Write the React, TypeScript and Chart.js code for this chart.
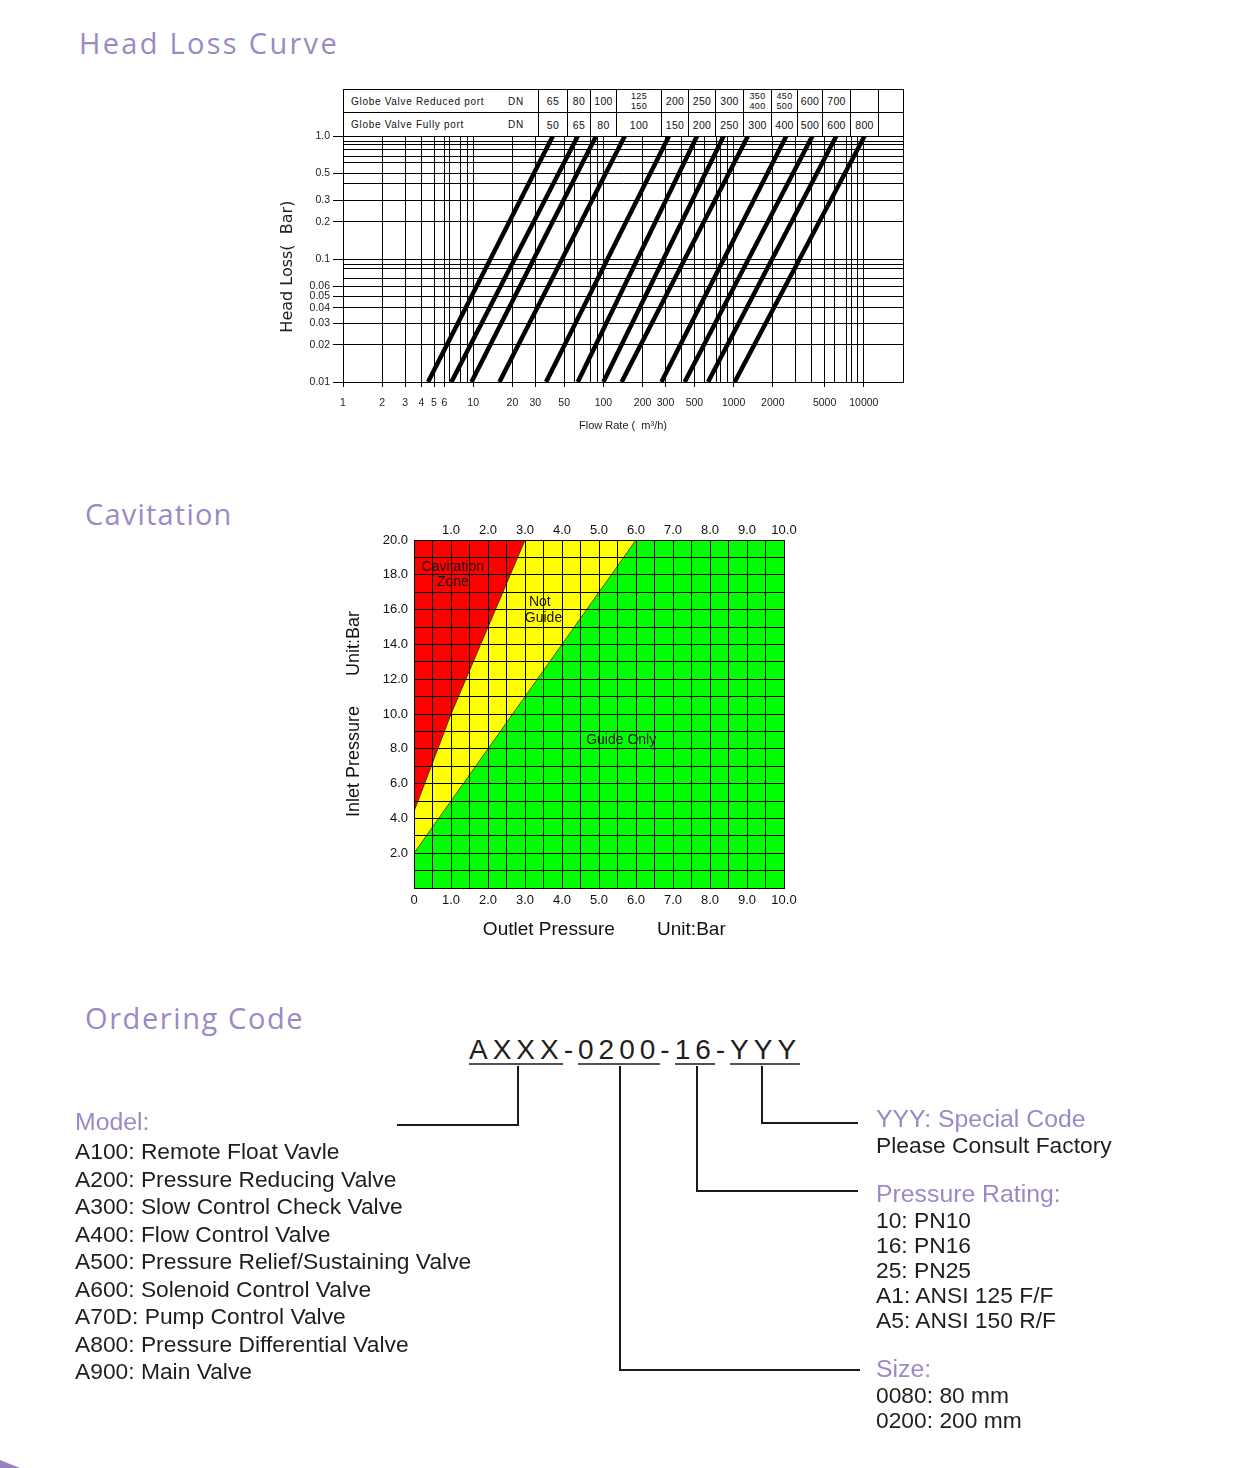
import React, { useEffect, useRef } from 'react';
import { Chart, registerables } from 'chart.js';

Chart.register(...registerables);

/* ---------- Head loss curve ---------- */

// Valve sizes (DN) printed above the curves, one column per curve
const reducedPortDN = ['65', '80', '100', '125\n150', '200', '250', '300', '350\n400', '450\n500', '600', '700', '', ''];
const fullyPortDN = ['50', '65', '80', '100', '150', '200', '250', '300', '400', '500', '600', '800', ''];

// Flow rate (m³/h) of each valve curve at the lowest and at the highest head loss on the chart
const flowAtMinLoss = [4.5, 6.8, 9.7, 15.9, 36.3, 63.6, 100, 138, 279, 421, 636, 1019];
const flowAtMaxLoss = [40.9, 63.6, 87.9, 146, 319, 524, 839, 1289, 2541, 4027, 6150, 10140];
const minLoss = 0.01;
const maxLoss = 1.0;
const minFlow = 1;
const maxFlow = 20000;

const flowLabelTicks = [1, 2, 3, 4, 5, 6, 10, 20, 30, 50, 100, 200, 300, 500, 1000, 2000, 5000, 10000];
const flowGridTicks = [1, 2, 3, 4, 5, 6, 6.6, 8, 9, 10, 20, 30, 50, 60, 80, 90, 100, 200, 300, 400, 500, 600, 740, 800, 900, 1000, 2000, 3000, 4000, 5000, 6000, 7300, 8000, 9000, 10000, 20000];
const lossLabelTicks = [1, 0.5, 0.3, 0.2, 0.1, 0.06, 0.05, 0.04, 0.03, 0.02, 0.01];
const lossGridTicks = [1, 0.9, 0.85, 0.78, 0.68, 0.61, 0.5, 0.41, 0.3, 0.2, 0.1, 0.09, 0.084, 0.069, 0.06, 0.05, 0.04, 0.03, 0.02, 0.01];

/* ---------- Cavitation ---------- */

const outletMax = 10;
const inletMax = 20;
// Edge between the cavitation zone and the "not guide" zone
const cavitationEdgeOutlet = [0, 1.0, 2.0, 3.0];
const cavitationEdgeInlet = [4.4, 10, 15, 20];
// Edge between the "not guide" zone and the "guide only" zone
const guideEdgeOutlet = [0, 6];
const guideEdgeInlet = [2, 20];

const zoneLabels = ['Cavitation', 'Zone', 'Not', 'Guide', 'Guide Only'];
const zoneLabelOutlet = [1.05, 1.05, 3.4, 3.5, 5.6];
const zoneLabelInlet = [18.45, 17.6, 16.4, 15.5, 8.5];

/* ---------- Ordering code ---------- */

const modelList = [
  'A100: Remote Float Vavle',
  'A200: Pressure Reducing Valve',
  'A300: Slow Control Check Valve',
  'A400: Flow Control Valve',
  'A500: Pressure Relief/Sustaining Valve',
  'A600: Solenoid Control Valve',
  'A70D: Pump Control Valve',
  'A800: Pressure Differential Valve',
  'A900: Main Valve',
];
const pressureRatings = ['10: PN10', '16: PN16', '25: PN25', 'A1: ANSI 125 F/F', 'A5: ANSI 150 R/F'];
const sizeCodes = ['0080: 80 mm', '0200: 200 mm'];

const PURPLE = '#9d88c6';
const INK = '#1e1e1e';
const SANS = '"Liberation Sans", Arial, sans-serif';

function HeadLossChart() {
  const ref = useRef<HTMLCanvasElement | null>(null);
  useEffect(() => {
    const canvas = ref.current;
    if (!canvas) return;
    const datasets = flowAtMinLoss.map((q, i) => ({
      label: 'DN ' + fullyPortDN[i],
      data: [
        { x: q, y: minLoss },
        { x: flowAtMaxLoss[i], y: maxLoss },
      ],
      borderColor: '#000',
      borderWidth: 4.5,
      pointRadius: 0,
      fill: false,
      tension: 0,
      clip: 0,
    }));
    const chart = new Chart(canvas, {
      type: 'line',
      data: { datasets },
      options: {
        animation: false,
        responsive: false,
        maintainAspectRatio: false,
        layout: { padding: { top: 56, right: 7, left: 0, bottom: 0 } },
        plugins: { legend: { display: false }, tooltip: { enabled: false } },
        scales: {
          x: {
            type: 'logarithmic',
            min: minFlow,
            max: maxFlow,
            afterBuildTicks: (s: any) => {
              s.ticks = [...flowGridTicks].sort((a, b) => a - b).map((v) => ({ value: v }));
            },
            afterFit: (s: any) => {
              s.height = 58;
              s.paddingLeft = 0;
              s.paddingRight = 0;
            },
            ticks: {
              autoSkip: false,
              maxRotation: 0,
              minRotation: 0,
              padding: 10,
              color: '#222',
              font: { family: SANS, size: 10.5 },
              callback: (v: any) => (flowLabelTicks.includes(Number(v)) ? String(v) : ''),
            },
            grid: {
              color: '#000',
              lineWidth: 1,
              tickLength: 5,
              tickColor: (ctx: any) =>
                ctx.tick && flowLabelTicks.includes(ctx.tick.value) ? '#000' : 'rgba(0,0,0,0)',
            },
            border: { color: '#000', width: 1 },
            title: {
              display: true,
              text: 'Flow Rate (  m³/h)',
              color: '#222',
              font: { family: SANS, size: 11 },
              padding: { top: 0, bottom: 7 },
            },
          },
          y: {
            type: 'logarithmic',
            min: minLoss,
            max: maxLoss,
            afterBuildTicks: (s: any) => {
              s.ticks = [...lossGridTicks].sort((a, b) => a - b).map((v) => ({ value: v }));
            },
            afterFit: (s: any) => {
              s.width = 73;
              s.paddingTop = 0;
              s.paddingBottom = 0;
            },
            ticks: {
              autoSkip: false,
              padding: 3,
              color: '#222',
              font: { family: SANS, size: 10.5 },
              callback: (v: any) => {
                const n = Number(v);
                if (!lossLabelTicks.includes(n)) return '';
                return n === 1 ? '1.0' : String(n);
              },
            },
            grid: {
              color: '#000',
              lineWidth: 1,
              tickLength: 10,
              tickColor: (ctx: any) =>
                ctx.tick && lossLabelTicks.includes(ctx.tick.value) ? '#000' : 'rgba(0,0,0,0)',
            },
            border: { color: '#000', width: 1 },
            title: {
              display: true,
              text: 'Head Loss(  Bar)   ',
              color: '#222',
              font: { family: '"DejaVu Sans", sans-serif', size: 16 },
              padding: { top: 8, bottom: 0 },
            },
          },
        },
      },
    } as any);
    return () => chart.destroy();
  }, []);
  return (
    <canvas
      ref={ref}
      width={640}
      height={360}
      style={{ position: 'absolute', left: 270, top: 80, width: 640, height: 360 }}
    />
  );
}

// Column borders of the DN table, measured from its left edge
const tableEdges = [0, 195, 224, 247, 273, 318, 345, 372, 400, 428, 454, 479, 507, 535, 560];

function SizeTable() {
  const rowTops = [0, 23];
  const rowHeights = [23, 24];
  const rows = [
    { name: 'Globe Valve Reduced port', sizes: reducedPortDN },
    { name: 'Globe Valve Fully port', sizes: fullyPortDN },
  ];
  const textStyle: React.CSSProperties = {
    position: 'absolute',
    fontFamily: SANS,
    fontSize: 10,
    letterSpacing: 0.7,
    color: '#111',
    display: 'flex',
    alignItems: 'center',
    justifyContent: 'center',
    textAlign: 'center',
    whiteSpace: 'pre',
  };
  return (
    <div
      style={{
        position: 'absolute',
        left: 343,
        top: 89,
        width: 561,
        height: 48,
        border: '1px solid #000',
        boxSizing: 'border-box',
      }}
    >
      <div style={{ position: 'absolute', left: 0, right: 0, top: 22, height: 1, background: '#000' }} />
      {tableEdges.slice(1, -1).map((x) => (
        <div key={x} style={{ position: 'absolute', left: x - 1, top: 0, bottom: 0, width: 1, background: '#000' }} />
      ))}
      {rows.map((r, ri) => (
        <React.Fragment key={r.name}>
          <div style={{ ...textStyle, left: 7, top: rowTops[ri], height: rowHeights[ri] - 1, justifyContent: 'flex-start' }}>
            {r.name}
          </div>
          <div style={{ ...textStyle, left: 160, width: 24, top: rowTops[ri], height: rowHeights[ri] - 1 }}>DN</div>
          {r.sizes.map((s, ci) => (
            <div
              key={ci}
              style={{
                ...textStyle,
                left: tableEdges[ci + 1],
                width: tableEdges[ci + 2] - tableEdges[ci + 1] - 1,
                top: rowTops[ri],
                height: rowHeights[ri] - 1,
                fontSize: s.includes('\n') ? 9 : 10.5,
                lineHeight: s.includes('\n') ? '10px' : '12px',
                letterSpacing: 0.3,
              }}
            >
              {s}
            </div>
          ))}
        </React.Fragment>
      ))}
    </div>
  );
}

function CavitationChart() {
  const ref = useRef<HTMLCanvasElement | null>(null);
  useEffect(() => {
    const canvas = ref.current;
    if (!canvas) return;
    const toPoints = (xs: number[], ys: number[]) => xs.map((x, i) => ({ x, y: ys[i] }));
    const zoneText = {
      id: 'zoneText',
      afterDraw(chart: any) {
        const { ctx, scales } = chart;
        ctx.save();
        ctx.font = '14px ' + SANS;
        ctx.fillStyle = '#151515';
        ctx.textAlign = 'center';
        ctx.textBaseline = 'middle';
        zoneLabels.forEach((t, i) => {
          ctx.fillText(t, scales.x.getPixelForValue(zoneLabelOutlet[i]), scales.y.getPixelForValue(zoneLabelInlet[i]));
        });
        ctx.restore();
      },
    };
    const tickFont = { family: SANS, size: 13 };
    const chart = new Chart(canvas, {
      type: 'line',
      data: {
        datasets: [
          {
            label: 'Cavitation Zone',
            data: toPoints(cavitationEdgeOutlet, cavitationEdgeInlet),
            fill: 'end',
            backgroundColor: '#ff0000',
            borderColor: '#5a2a00',
            borderWidth: 1,
            pointRadius: 0,
            tension: 0,
          },
          {
            label: 'Not Guide',
            data: toPoints(guideEdgeOutlet, guideEdgeInlet),
            fill: 'end',
            backgroundColor: '#ffff00',
            borderColor: '#5a5000',
            borderWidth: 1,
            pointRadius: 0,
            tension: 0,
          },
          {
            label: 'Guide Only',
            data: toPoints([0, outletMax], [inletMax, inletMax]),
            fill: 'origin',
            backgroundColor: '#00ff00',
            borderWidth: 0,
            pointRadius: 0,
          },
        ],
      },
      options: {
        animation: false,
        responsive: false,
        maintainAspectRatio: false,
        layout: { padding: { top: 0, right: 26, left: 0, bottom: 0 } },
        plugins: { legend: { display: false }, tooltip: { enabled: false } },
        scales: {
          x: {
            type: 'linear',
            position: 'bottom',
            min: 0,
            max: outletMax,
            afterFit: (s: any) => {
              s.height = 62;
            },
            ticks: {
              stepSize: 0.5,
              autoSkip: false,
              maxRotation: 0,
              padding: 5,
              color: '#111',
              font: tickFont,
              callback: (v: any) => {
                const n = Number(v);
                if (n % 1 !== 0) return '';
                return n === 0 ? '0' : n.toFixed(1);
              },
            },
            grid: { color: '#000', lineWidth: 1, drawTicks: false, z: 1 },
            border: { color: '#000', width: 1, z: 1 },
            title: {
              display: true,
              text: '  Outlet Pressure        Unit:Bar',
              color: '#111',
              font: { family: SANS, size: 19 },
              padding: { top: 0, bottom: 9 },
            },
          },
          xTop: {
            type: 'linear',
            position: 'top',
            min: 0,
            max: outletMax,
            afterFit: (s: any) => {
              s.height = 25;
            },
            ticks: {
              stepSize: 1,
              autoSkip: false,
              maxRotation: 0,
              padding: 2,
              color: '#111',
              font: tickFont,
              callback: (v: any) => {
                const n = Number(v);
                return n === 0 ? '' : n.toFixed(1);
              },
            },
            grid: { display: false, drawTicks: false },
            border: { display: false },
          },
          y: {
            type: 'linear',
            min: 0,
            max: inletMax,
            afterFit: (s: any) => {
              s.width = 74;
            },
            ticks: {
              stepSize: 1,
              autoSkip: false,
              padding: 6,
              color: '#111',
              font: tickFont,
              callback: (v: any) => {
                const n = Number(v);
                return n > 0 && n % 2 === 0 ? n.toFixed(1) : '';
              },
            },
            grid: { color: '#000', lineWidth: 1, drawTicks: false, z: 1 },
            border: { color: '#000', width: 1, z: 1 },
            title: {
              display: true,
              text: 'Inlet Pressure      Unit:Bar',
              color: '#111',
              font: { family: SANS, size: 18 },
              padding: { top: 3, bottom: 0 },
            },
          },
        },
      },
      plugins: [zoneText],
    } as any);
    return () => chart.destroy();
  }, []);
  return (
    <canvas
      ref={ref}
      width={470}
      height={435}
      style={{ position: 'absolute', left: 340, top: 515, width: 470, height: 435 }}
    />
  );
}

function SectionTitle({ text, left, centerY, spacing }: { text: string; left: number; centerY: number; spacing: number }) {
  return (
    <div
      style={{
        position: 'absolute',
        left,
        top: centerY - 20,
        height: 40,
        lineHeight: '40px',
        fontFamily: '"Open Sans", sans-serif',
        fontSize: 29,
        letterSpacing: spacing,
        color: PURPLE,
        whiteSpace: 'nowrap',
      }}
    >
      {text}
    </div>
  );
}

function TextLine({ text, left, centerY, heading }: { text: string; left: number; centerY: number; heading?: boolean }) {
  return (
    <div
      style={{
        position: 'absolute',
        left,
        top: centerY - 14,
        height: 28,
        lineHeight: '28px',
        fontFamily: SANS,
        fontSize: heading ? 24.8 : 22.8,
        color: heading ? PURPLE : INK,
        whiteSpace: 'nowrap',
      }}
    >
      {text}
    </div>
  );
}

function OrderingCode() {
  const codeParts = ['AXXX', '-', '0200', '-', '16', '-', 'YYY'];
  return (
    <>
      <div
        style={{
          position: 'absolute',
          left: 469,
          top: 1032,
          height: 36,
          lineHeight: '36px',
          fontFamily: SANS,
          fontSize: 28,
          letterSpacing: 5,
          color: INK,
          whiteSpace: 'pre',
        }}
      >
        {codeParts.join('')}
      </div>
      <svg
        width={1241}
        height={1468}
        style={{ position: 'absolute', left: 0, top: 0, pointerEvents: 'none' }}
      >
        <g stroke="#1a1a1a" strokeWidth={1.6} fill="none">
          <line x1={469} y1={1064} x2={563} y2={1064} />
          <line x1={578} y1={1064} x2={660} y2={1064} />
          <line x1={675} y1={1064} x2={715} y2={1064} />
          <line x1={730} y1={1064} x2={800} y2={1064} />
        </g>
        <g stroke="#1a1a1a" strokeWidth={2} fill="none">
          <polyline points="518,1066 518,1125 397,1125" />
          <polyline points="620,1066 620,1370 860,1370" />
          <polyline points="697,1066 697,1191 858,1191" />
          <polyline points="762,1066 762,1123 858,1123" />
        </g>
      </svg>
      <TextLine text="Model:" left={75} centerY={1122} heading />
      {modelList.map((m, i) => (
        <TextLine key={m} text={m} left={75} centerY={1151 + i * 27.5} />
      ))}
      <TextLine text="YYY: Special Code" left={876} centerY={1119} heading />
      <TextLine text="Please Consult Factory" left={876} centerY={1145} />
      <TextLine text="Pressure Rating:" left={876} centerY={1194} heading />
      {pressureRatings.map((p, i) => (
        <TextLine key={p} text={p} left={876} centerY={1220 + i * 25} />
      ))}
      <TextLine text="Size:" left={876} centerY={1369} heading />
      {sizeCodes.map((s, i) => (
        <TextLine key={s} text={s} left={876} centerY={1395 + i * 25} />
      ))}
    </>
  );
}

export default function App() {
  return (
    <div
      style={{
        position: 'absolute',
        left: 0,
        top: 0,
        width: 1241,
        height: 1468,
        background: '#fff',
        overflow: 'hidden',
      }}
    >
      <SectionTitle text="Head Loss Curve" left={79} centerY={43} spacing={2.3} />
      <SizeTable />
      <HeadLossChart />
      <SectionTitle text="Cavitation" left={85} centerY={514} spacing={1.2} />
      <CavitationChart />
      <SectionTitle text="Ordering Code" left={85} centerY={1018} spacing={1.6} />
      <OrderingCode />
      <div
        style={{
          position: 'absolute',
          left: 0,
          top: 1460,
          width: 20,
          height: 8,
          background: '#9a80c2',
          clipPath: 'polygon(0 0, 100% 100%, 0 100%)',
        }}
      />
    </div>
  );
}
